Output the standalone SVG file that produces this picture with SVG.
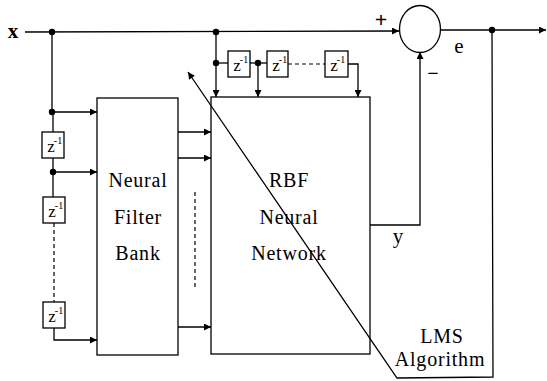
<svg xmlns="http://www.w3.org/2000/svg" width="547" height="381" viewBox="0 0 547 381">
<style>
.ln{stroke:#000;stroke-width:1.3;fill:none}
.dash{stroke:#000;stroke-width:1.2;fill:none;stroke-dasharray:4 3}
.box{stroke:#000;stroke-width:1.3;fill:none}
.t{font-family:"Liberation Serif","Times New Roman",serif;fill:#000;text-anchor:middle}
.big{font-size:20px;letter-spacing:0.8px}
.z{font-size:17px}
.sup{font-size:10px}
</style>
<defs>
<marker id="ah" viewBox="0 0 10 10" refX="10" refY="5" markerWidth="9" markerHeight="7" markerUnits="userSpaceOnUse" orient="auto">
<path d="M0,0 L10,5 L0,10 z" fill="#000"/>
</marker>
</defs>
<g id="sum">
<ellipse class="box" cx="420" cy="29" rx="20.5" ry="23.5"/>
<text class="t" x="381" y="27" font-size="22" font-weight="bold">+</text>
<text class="t" x="433" y="80" font-size="20" font-weight="bold">−</text>
<text class="t" x="459" y="53" font-size="21">e</text>
</g>
<g id="labels">
<text class="t" x="13" y="38" font-size="21" font-weight="bold">x</text>
<text class="t" x="398" y="243" font-size="21">y</text>
</g>
<g id="filterbank">
<rect class="box" x="97" y="98" width="81" height="257"/>
<text class="t big" x="138" y="187">Neural</text>
<text class="t big" x="138" y="224">Filter</text>
<text class="t big" x="138" y="260">Bank</text>
</g>
<g id="rbf">
<rect class="box" x="211" y="97" width="159" height="257"/>
<text class="t big" x="289" y="187">RBF</text>
<text class="t big" x="289" y="224">Neural</text>
<text class="t big" x="289" y="260">Network</text>
</g>
<g id="lms">
<text class="t big" x="442" y="343">LMS</text>
<text class="t big" x="440" y="366">Algorithm</text>
</g>
<g id="zl1"><rect class="box" x="42" y="132" width="22" height="26"/><text class="t z" x="51" y="152">z</text><text class="t sup" x="58" y="144">-1</text></g>
<g id="zl2"><rect class="box" x="43" y="197" width="22" height="26"/><text class="t z" x="52" y="217">z</text><text class="t sup" x="59" y="209">-1</text></g>
<g id="zl3"><rect class="box" x="43" y="302" width="22" height="26"/><text class="t z" x="52" y="322">z</text><text class="t sup" x="59" y="314">-1</text></g>
<g id="zt1"><rect class="box" x="228" y="51" width="22" height="26"/><text class="t z" x="237" y="71">z</text><text class="t sup" x="244" y="63">-1</text></g>
<g id="zt2"><rect class="box" x="267" y="51" width="21" height="26"/><text class="t z" x="276" y="71">z</text><text class="t sup" x="283" y="63">-1</text></g>
<g id="zt3"><rect class="box" x="325" y="51" width="23" height="26"/><text class="t z" x="334" y="71">z</text><text class="t sup" x="341" y="63">-1</text></g>
<g id="connectors">
<path class="ln" d="M25,32 L399,31" marker-end="url(#ah)"/>
<path class="ln" d="M440,30 L546,30" marker-end="url(#ah)"/>
<path class="ln" d="M492,30 L493,377 L397,378 L188,72" marker-end="url(#ah)"/>
<path class="ln" d="M52,32 L52,112 L97,112" marker-end="url(#ah)"/>
<path class="ln" d="M53,112 L53,132"/>
<path class="ln" d="M53,158 L53,197"/>
<path class="ln" d="M53,172 L97,172" marker-end="url(#ah)"/>
<path class="dash" d="M54,223 L54,302"/>
<path class="ln" d="M54,328 L54,340 L97,340" marker-end="url(#ah)"/>
<path class="ln" d="M178,132 L211,132" marker-end="url(#ah)"/>
<path class="ln" d="M178,158 L211,158" marker-end="url(#ah)"/>
<path class="ln" d="M178,327 L211,327" marker-end="url(#ah)"/>
<path class="dash" d="M195,192 L195,288"/>
<path class="ln" d="M216,32 L216,97" marker-end="url(#ah)"/>
<path class="ln" d="M216,63 L228,63"/>
<path class="ln" d="M250,63 L267,63"/>
<path class="ln" d="M258,63 L258,97" marker-end="url(#ah)"/>
<path class="dash" d="M288,64 L325,64"/>
<path class="ln" d="M348,64 L358,64 L358,97" marker-end="url(#ah)"/>
<path class="ln" d="M370,225 L420,225 L420,52" marker-end="url(#ah)"/>
<circle cx="52" cy="32" r="3.2" fill="#000"/>
<circle cx="216" cy="32" r="3.2" fill="#000"/>
<circle cx="492" cy="30" r="3.2" fill="#000"/>
<circle cx="52" cy="112" r="3.2" fill="#000"/>
<circle cx="53" cy="172" r="3.2" fill="#000"/>
<circle cx="216" cy="63" r="3.2" fill="#000"/>
<circle cx="258" cy="63" r="3.2" fill="#000"/>
</g>
</svg>
